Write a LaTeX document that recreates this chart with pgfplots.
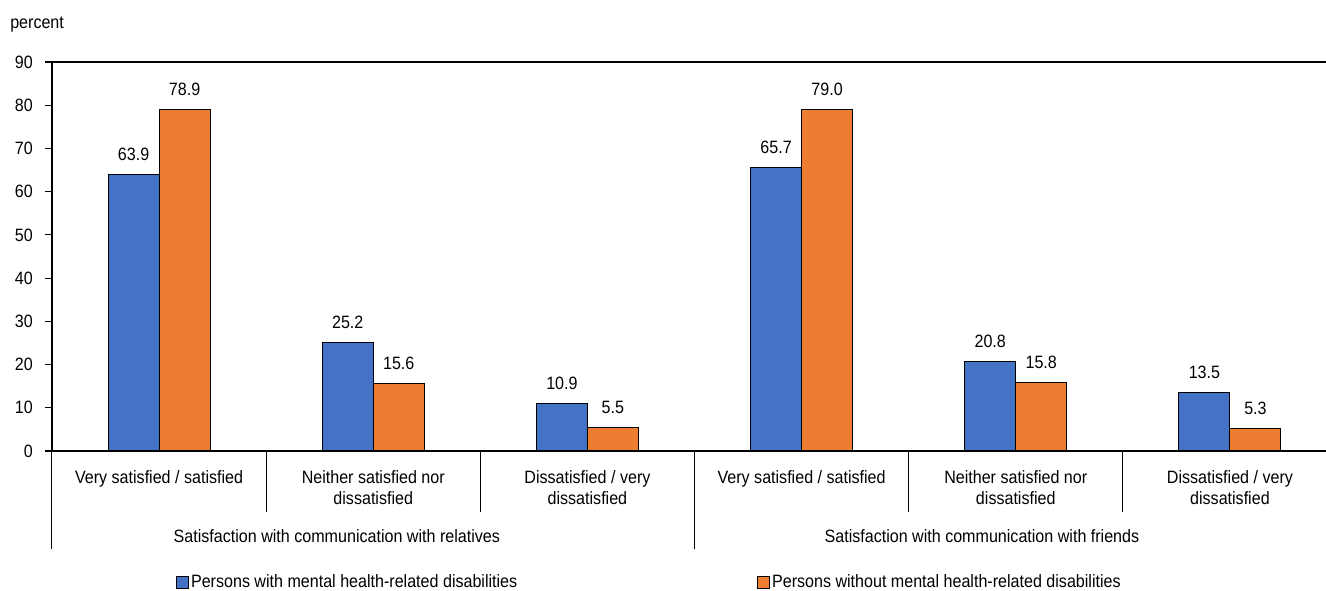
\documentclass[border=0pt]{standalone}
\usepackage{fontspec}
\setmainfont{Liberation Sans}[FakeStretch=0.9]
\usepackage{pgfplots}
\pgfplotsset{compat=1.18}
\definecolor{cblue}{HTML}{4472C4}
\definecolor{corange}{HTML}{ED7D31}
\begin{document}
\fontsize{13.4}{15.75}\selectfont
\begin{tikzpicture}[font=\fontsize{13.4}{15.75}\selectfont]
\useasboundingbox (-39pt,-105pt) rectangle (955.5pt,338.25pt);
\begin{axis}[
  scale only axis, width=963.75pt, height=291.75pt,
  xmin=-0.5, xmax=5.5, ymin=0, ymax=90,
  clip=false,
  ybar, bar width=38.25pt,
  ytick={0,10,...,90},
  xtick={0,...,5},
  xticklabels={Very satisfied / satisfied, Neither satisfied nor\\dissatisfied, Dissatisfied / very\\dissatisfied, Very satisfied / satisfied, Neither satisfied nor\\dissatisfied, Dissatisfied / very\\dissatisfied},
  xticklabel style={align=center, anchor=north, inner sep=0pt, yshift=-9pt},
  x tick style={draw=none},
  axis x line*=bottom, axis y line*=left,
  axis line style={line width=1pt, -},
  y tick style={line width=0.8pt, black},
  tick align=outside, major tick length=5.25pt,
  yticklabel style={anchor=east, inner sep=0pt, xshift=-9pt},
  /pgf/number format/assume math mode=true,
  nodes near coords,
  nodes near coords style={/pgf/number format/.cd, fixed, fixed zerofill, precision=1, /tikz/.cd, inner sep=0pt, anchor=south, yshift=10pt},
  legend columns=2,
  legend style={at={(rel axis cs:0.0965,-0.3368)}, anchor=west, draw=none, inner sep=0pt,
    /tikz/every even column/.append style={column sep=178.5pt},
    nodes={inner xsep=1.5pt}},
  legend image code/.code={\draw[#1, draw=black, line width=0.6pt] (0pt,-4.5pt) rectangle (9pt,4.5pt);},
]
\addplot[fill=cblue, draw=black, line width=0.75pt, bar shift=-19.125pt] coordinates {(0,63.9) (1,25.2) (2,10.9) (3,65.7) (4,20.8) (5,13.5)};
\addplot[fill=corange, draw=black, line width=0.75pt, bar shift=19.125pt] coordinates {(0,78.9) (1,15.6) (2,5.5) (3,79.0) (4,15.8) (5,5.3)};
\legend{Persons with mental health-related disabilities, Persons without mental health-related disabilities}
\draw[line width=1pt] (rel axis cs:0,1) -- (rel axis cs:1,1);
\draw[line width=0.75pt] (axis cs:-0.5,0) -- ++(0pt,-73.5pt);
\draw[line width=0.75pt] (axis cs:2.5,0) -- ++(0pt,-73.5pt);
\draw[line width=0.75pt] (axis cs:0.5,0) -- ++(0pt,-45.75pt);
\draw[line width=0.75pt] (axis cs:1.5,0) -- ++(0pt,-45.75pt);
\draw[line width=0.75pt] (axis cs:3.5,0) -- ++(0pt,-45.75pt);
\draw[line width=0.75pt] (axis cs:4.5,0) -- ++(0pt,-45.75pt);
\node at (axis cs:0.830,0) [yshift=-63.75pt] {Satisfaction with communication with relatives};
\node at (axis cs:3.842,0) [yshift=-63.75pt] {Satisfaction with communication with friends};
\end{axis}
\node[anchor=west, inner sep=0pt] at (-31.5pt,319.5pt) {percent};
\end{tikzpicture}
\end{document}
